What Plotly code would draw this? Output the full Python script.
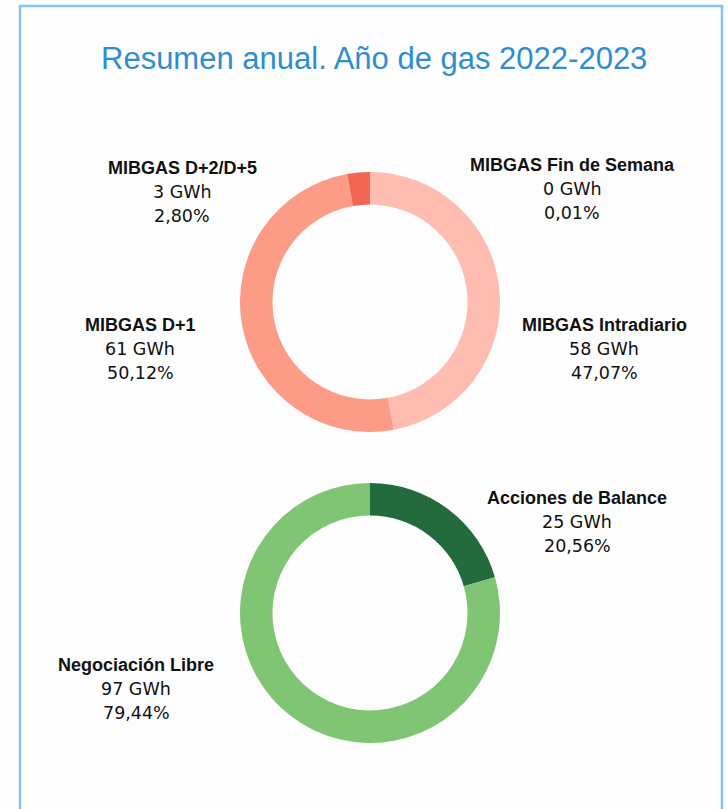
import plotly.graph_objects as go

W, H = 728, 809

# Top donut (MIBGAS)
top_labels = ["MIBGAS Intradiario", "MIBGAS D+1", "MIBGAS D+2/D+5", "MIBGAS Fin de Semana"]
top_gwh = [58, 61, 3, 0]
top_pct = [47.07, 50.12, 2.80, 0.01]
top_colors = ["#ffbcb0", "#fc9b86", "#f26552", "#e3363a"]

# Bottom donut
bot_labels = ["Acciones de Balance", "Negociación Libre"]
bot_gwh = [25, 97]
bot_pct = [20.56, 79.44]
bot_colors = ["#236b3c", "#80c574"]

title_text = "Resumen anual. Año de gas 2022-2023"

def px_x(x):
    return x / W

def px_y(y):
    return 1 - y / H

fig = go.Figure()

fig.add_trace(go.Pie(
    labels=top_labels, values=top_pct, hole=0.75, sort=False,
    direction="clockwise", rotation=0,
    marker=dict(colors=top_colors, line=dict(width=0)),
    textinfo="none", hoverinfo="label+percent", showlegend=False,
    domain=dict(x=[px_x(240), px_x(500)], y=[px_y(432), px_y(172)]),
))
fig.add_trace(go.Pie(
    labels=bot_labels, values=bot_pct, hole=0.75, sort=False,
    direction="clockwise", rotation=0,
    marker=dict(colors=bot_colors, line=dict(width=0)),
    textinfo="none", hoverinfo="label+percent", showlegend=False,
    domain=dict(x=[px_x(240), px_x(500)], y=[px_y(743), px_y(483)]),
))

def fmt_pct(p):
    return f"{p:.2f}".replace(".", ",") + "%"

# label anchor centers (pixel) for each slice
top_pos = [(604, 325), (140, 325), (182, 168), (572, 165)]
bot_pos = [(577, 498), (136, 665)]

annotations = []
def add_label(name, gwh, pct, pos):
    x, y = pos
    annotations.append(dict(
        x=px_x(x), y=px_y(y), xref="paper", yref="paper",
        text=f"<b>{name}</b>", showarrow=False, xanchor="center", yanchor="middle",
        font=dict(family="Liberation Sans, Arial", size=18, color="#111111"),
    ))
    for txt, dy in [(f"{gwh} GWh", 24), (fmt_pct(pct), 48)]:
        annotations.append(dict(
            x=px_x(x), y=px_y(y + dy), xref="paper", yref="paper",
            text=txt, showarrow=False, xanchor="center", yanchor="middle",
            font=dict(family="DejaVu Sans", size=17.5, color="#111111"),
        ))

for n, g, p, pos in zip(top_labels, top_gwh, top_pct, top_pos):
    add_label(n, g, p, pos)
for n, g, p, pos in zip(bot_labels, bot_gwh, bot_pct, bot_pos):
    add_label(n, g, p, pos)

annotations.append(dict(
    x=px_x(374), y=px_y(58), xref="paper", yref="paper",
    text=title_text, showarrow=False, xanchor="center", yanchor="middle",
    font=dict(family="Liberation Sans, Arial", size=31, color="#2e8dd0"),
))

fig.update_layout(
    width=W, height=H,
    margin=dict(l=0, r=0, t=0, b=0),
    paper_bgcolor="#fdfdfd", plot_bgcolor="#fdfdfd",
    annotations=annotations,
    shapes=[dict(type="rect", xref="paper", yref="paper",
                 x0=px_x(20), x1=px_x(722), y0=-0.05, y1=px_y(6),
                 line=dict(color="#85c2ee", width=2.5), fillcolor="rgba(0,0,0,0)")],
)

fig.write_html(
    "out.html",
    config={"displayModeBar": False},
    post_script="document.body.style.margin='0';document.body.style.overflow='hidden';document.body.style.background='#fdfdfd';",
)
